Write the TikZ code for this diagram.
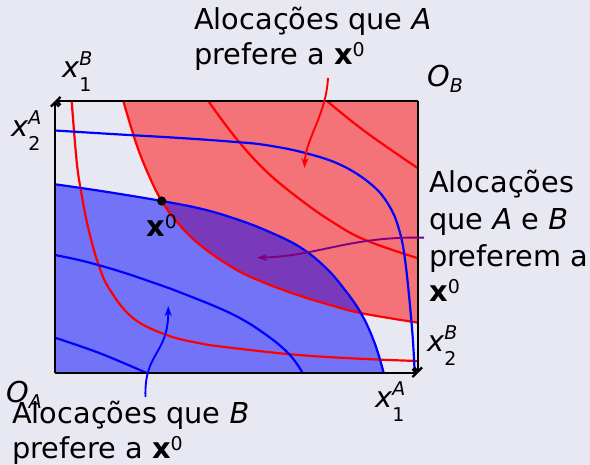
\documentclass[tikz,border=0pt]{standalone}
\usepackage{fontspec}
\setmainfont{DejaVu Sans}
\usetikzlibrary{arrows.meta}
\definecolor{bg}{RGB}{232,232,242}
\definecolor{mypurple}{RGB}{128,0,128}
\newcommand\lblfont{\fontsize{28.8}{36}\selectfont}
\newcommand\scrfont{\fontsize{19}{19}\selectfont}
\newcommand\supsub[3]{#1\setbox0\hbox{\scrfont #2}\setbox2\hbox{\scrfont #3}\dimen0=\wd0 \ifdim\wd2>\dimen0 \dimen0=\wd2 \fi\rlap{\raisebox{0.42em}{\copy0}}\rlap{\raisebox{-0.47em}{\copy2}}\hspace{\dimen0}}
\newcommand\xzero{\textbf{x}\raisebox{0.3em}{\scrfont 0}}
\newcommand\subsc[2]{#1\raisebox{-0.18em}{\scrfont #2}}
\begin{document}
\begin{tikzpicture}[x=1pt,y=-1pt,
  lab/.style={font=\lblfont,inner sep=0pt,anchor=base west},
  curve/.style={line width=2.2pt},
  sm/.style={smooth,tension=.65},
  axis/.style={line width=2.2pt,-{Straight Barb[length=4pt,width=8pt]}},
  ptr/.style={line width=1.9pt,-{Stealth[length=10pt,width=7pt,inset=3pt]}}]
\useasboundingbox[fill=bg] (0,0) rectangle (590,465);
% corners
\coordinate (OA) at (55,373);
\coordinate (OB) at (418,101);
\coordinate (TL) at (55,101);
\coordinate (BR) at (418,373);
\def\redone{(123.3,101) (136.7,145) (150,178) (161.7,201) (176.7,221.7) (200,245) (235,269) (265,283) (299,295.5) (332,305.5) (362,313.3) (418,322.7)}
\def\bluetwo{(55,184.3) (83,188.3) (117,193.5) (161.7,201) (200,208.5) (233,218) (265,230) (299,246.5) (325,267) (345,290) (362,315) (375,344) (383.7,373)}
% regions
\fill[red,opacity=.5] plot[sm] coordinates {\redone} -- (418,101) -- cycle;
\fill[blue,opacity=.5] plot[sm] coordinates {\bluetwo} -- (55,373) -- cycle;
% red curves
\draw[red,curve] plot[sm] coordinates {\redone};
\draw[red,curve] plot[sm] coordinates {(208.3,101) (235,137) (265.3,170.5) (298.7,198.3) (332,221.7) (365.3,240) (418,258.3)};
\draw[red,curve] plot[sm] coordinates {(327,101) (365.3,131.7) (418,168.3)};
\draw[red,curve] plot[sm] coordinates {(71.7,101) (76.7,161.7) (81.7,195) (88.3,228.3) (98.3,264) (110,290) (133.3,318.3) (166.7,335) (200,343.3) (232,347.9) (298.7,355) (365.3,359) (418,361)};
% blue curves
\draw[blue,curve] plot[sm] coordinates {(55,130.5) (116.7,134.3) (180,138) (232,141.7) (265.3,145) (305.3,153) (342,165.5) (372,185) (388.7,205) (398.7,228.3) (405.3,261.7) (412,328.3) (414.7,373)};
\draw[blue,curve] plot[sm] coordinates {\bluetwo};
\draw[blue,curve] plot[sm] coordinates {(55,255) (83,261) (117,270.5) (150,281.5) (183,293.5) (232,314) (265,334) (289,354) (302.7,373)};
\draw[blue,curve] plot[sm] coordinates {(55,337.7) (100,353.3) (146.7,373)};
% axes
\draw[axis] (OA) -- (BR);
\draw[axis] (OA) -- (TL);
\draw[axis] (OB) -- (TL);
\draw[axis] (OB) -- (BR);
% point
\fill (161.7,201) circle (4.6pt) coordinate (x0);
% labels
\node[lab] (t1) at (194,30) {Alocações que \textit{A}};
\node[lab] (t2) at (194,65) {prefere a \xzero};
\node[lab] (r1) at (429,193) {Alocações};
\node[lab] (r2) at (429,230) {que \textit{A} e \textit{B}};
\node[lab] (r3) at (429,267) {preferem a};
\node[lab] (r4) at (429,302) {\xzero};
\node[lab] (b1) at (12,424) {Alocações que \textit{B}};
\node[lab] (b2) at (12,459) {prefere a \xzero};
\node[lab] (oa) at (6,403) {\subsc{\textit{O}}{\textit{A}}};
\node[lab] (ob) at (427,87) {\subsc{\textit{O}}{\textit{B}}};
\node[lab] (xb1) at (62,78) {\supsub{\textit{x}}{\textit{B}}{1}};
\node[lab] (xa2) at (11,137) {\supsub{\textit{x}}{\textit{A}}{2}};
\node[lab] (xb2) at (427,352) {\supsub{\textit{x}}{\textit{B}}{2}};
\node[lab] (xa1) at (375,408) {\supsub{\textit{x}}{\textit{A}}{1}};
\node[lab] (xl) at (146,237) {\xzero};
% pointer arrows
\coordinate (rs) at (328,78);
\coordinate (re) at (304.5,168);
\coordinate (ps) at (424,237.7);
\coordinate (pe) at (257,257.7);
\coordinate (bs) at (145.5,397);
\coordinate (be) at (168.3,306);
\draw[ptr,red] (rs) .. controls (326,115) and (306,138) .. (re);
\draw[ptr,mypurple] (ps) .. controls (350,236) and (318,256) .. (pe);
\draw[ptr,blue] (bs) .. controls (144,352) and (168,355) .. (be);
\end{tikzpicture}
\end{document}
